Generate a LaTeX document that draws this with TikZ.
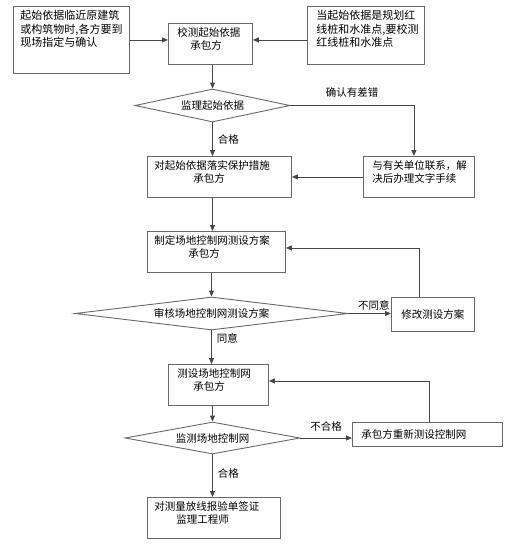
\documentclass[tikz,border=0pt]{standalone}
\usepackage{fontspec}
\setmainfont{Noto Sans CJK SC}
\usetikzlibrary{shapes.geometric,arrows.meta}

\definecolor{linegray}{RGB}{70,70,70}
\definecolor{boxgray}{RGB}{105,105,105}

% top aligned text block inside a box: width, height, text
\newcommand{\celltext}[3]{\parbox[c][#2][t]{#1}{\raggedright\leftskip=7pt\vspace*{4pt}#3}}

\tikzset{
  box/.style={draw=boxgray, line width=0.9pt, inner sep=0pt, anchor=north west,
    font=\fontsize{10.5}{13.5}\selectfont},
  check/.style={draw=boxgray, line width=0.9pt, diamond, inner sep=0pt,
    font=\fontsize{10.5}{13.5}\selectfont},
  arr/.style={draw=linegray, line width=0.9pt, -{Triangle[length=6pt,width=5pt]}},
  note/.style={font=\fontsize{10.5}{13.5}\selectfont, inner sep=1pt}
}

\begin{document}
\begin{tikzpicture}[x=1pt,y=-1pt]
    \useasboundingbox (0,0) rectangle (527,546);

    % Top row
    \node[box, font=\fontsize{11}{13.5}\selectfont] (A) at (13,6)
      {\celltext{116pt}{67pt}{起始依据临近原建筑\\或构筑物时,各方要到\\现场指定与确认}};
    \node[box] (B) at (168,23)
      {\celltext{84pt}{41pt}{\hspace*{2pt}校测起始依据\\\hspace*{15pt}承包方}};
    \node[box, font=\fontsize{11}{13.5}\selectfont] (C) at (307,6)
      {\celltext{117pt}{58pt}{\hspace*{2pt}当起始依据是规划红\\\hspace*{2pt}线桩和水准点,要校测\\\hspace*{2pt}红线桩和水准点}};

    % First check
    \node[check, aspect=4.7, minimum width=155pt, minimum height=33pt] (D1) at (212.5,105.5) {监理起始依据};

    % Protection of reference points
    \node[box] (F) at (147,156)
      {\celltext{144pt}{41pt}{对起始依据落实保护措施\\\hspace*{39pt}承包方}};
    \node[box] (E) at (363,156)
      {\celltext{111pt}{41pt}{\hspace*{2pt}与有关单位联系，解\\\hspace*{2pt}决后办理文字手续}};

    % Control network plan
    \node[box] (G) at (147,231)
      {\celltext{138pt}{41pt}{制定场地控制网测设方案\\\hspace*{34pt}承包方}};
    \node[check, aspect=8.3, minimum width=273pt, minimum height=33pt] (D2) at (211.5,313.5) {审核场地控制网测设方案};
    \node[box, minimum width=83pt, minimum height=34pt] (H) at (391,297) {修改测设方案};

    % Control network survey
    \node[box] (I) at (168,364)
      {\celltext{100pt}{41pt}{\hspace*{2pt}测设场地控制网\\\hspace*{18pt}承包方}};
    \node[check, aspect=5.5, minimum width=175pt, minimum height=32pt] (D3) at (212.5,438) {监测场地控制网};
    \node[box, minimum height=24pt] (J) at (352,422)
      {\makebox[150pt][l]{\hspace*{9pt}承包方重新测设控制网}};
    \node[box] (K) at (147,497)
      {\celltext{133pt}{41pt}{对测量放线报验单签证\\\hspace*{22pt}监理工程师}};

    % Connectors
    \draw[arr] (A.east) -- (A.east -| B.west);
    \draw[arr] (C.west |- A.east) -- (A.east -| B.east);
    \draw[arr] (B.south -| D1.north) -- (D1.north);
    \draw[arr] (D1.east) -| ([xshift=-5pt]E.north)
      node[note, pos=0.25, above=7pt] {确认有差错};
    \draw[arr] (D1.south) -- (F.north -| D1.south)
      node[note, midway, right=4pt] {合格};
    \draw[arr] (E.west) -- (E.west -| F.east);
    \draw[arr] (F.south -| D1.south) -- (G.north -| D1.south);
    \draw[arr] ([xshift=-14pt]H.north) |- ([yshift=4pt]G.east);
    \draw[arr] (G.south -| D2.north) -- (D2.north);
    \draw[arr] (D2.east) -- (D2.east -| H.west)
      node[note, pos=1, anchor=south east, yshift=2pt] {不同意};
    \draw[arr] (D2.south) -- (I.north -| D2.south)
      node[note, pos=0.25, right=4pt] {同意};
    \draw[arr] (I.south -| D3.north) -- (D3.north);
    \draw[arr] (D3.east) -- (D3.east -| J.west)
      node[note, midway, above=5pt] {不合格};
    \draw[arr] ([xshift=2pt]J.north) |- ([yshift=4pt]I.east);
    \draw[arr] (D3.south) -- (K.north -| D3.south)
      node[note, pos=0.44, right=4pt] {合格};
\end{tikzpicture}
\end{document}
